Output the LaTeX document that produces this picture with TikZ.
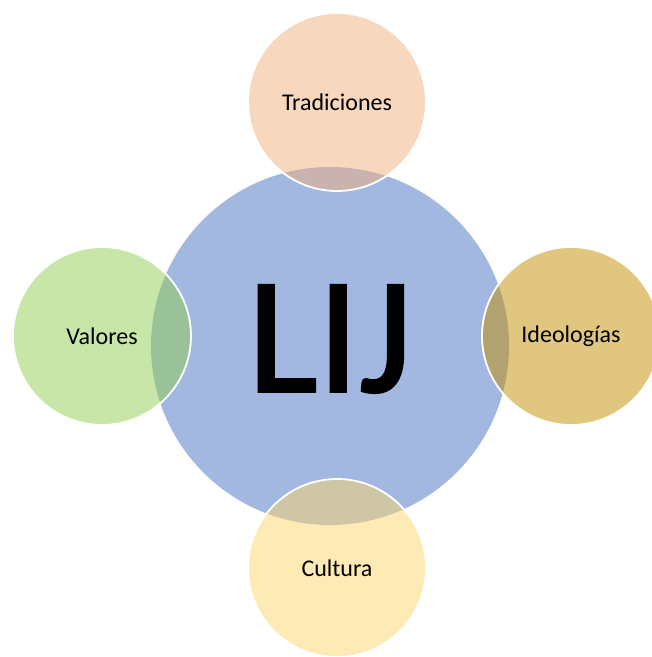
\documentclass[tikz,border=0pt]{standalone}
\usepackage{fontspec}
\setmainfont{Carlito}
\newfontfamily\hubfont[FakeBold=1.5]{Carlito}
\usepackage{tikz}
\usetikzlibrary{positioning}
\definecolor{hubblue}{HTML}{A2B8E0}
\definecolor{peach}{RGB}{241,175,127}
\definecolor{leaf}{RGB}{145,205,81}
\definecolor{gold}{RGB}{193,141,0}
\definecolor{sand}{RGB}{253,213,107}
\tikzstyle{hub} = [circle, minimum size=358pt, inner sep=0pt, fill=hubblue]
\tikzstyle{hubtext} = [inner sep=0pt, font=\hubfont\fontsize{166}{170}\selectfont]
\tikzstyle{petal} = [circle, minimum size=178pt, inner sep=0pt, draw=white, line width=1.8pt, fill opacity=0.5, text opacity=1, font=\fontsize{24}{28}\selectfont]

\begin{document}
\begin{tikzpicture}[x=1pt, y=-1pt]
    \useasboundingbox (0,0) rectangle (652,657);
    \node (lij) [hub] at (330,346) {};
    \node (lijtext) [hubtext] at ([yshift=7pt]lij.center) {LIJ};

    \node (trad) [petal, fill=peach] at (337,102) {Tradiciones};
    \node (val) [petal, fill=leaf] at (102,336) {Valores};
    \node (ideo) [petal, fill=gold] at (571,336) {Ideologías};
    \node (cult) [petal, fill=sand] at (337,568) {Cultura};
\end{tikzpicture}
\end{document}
